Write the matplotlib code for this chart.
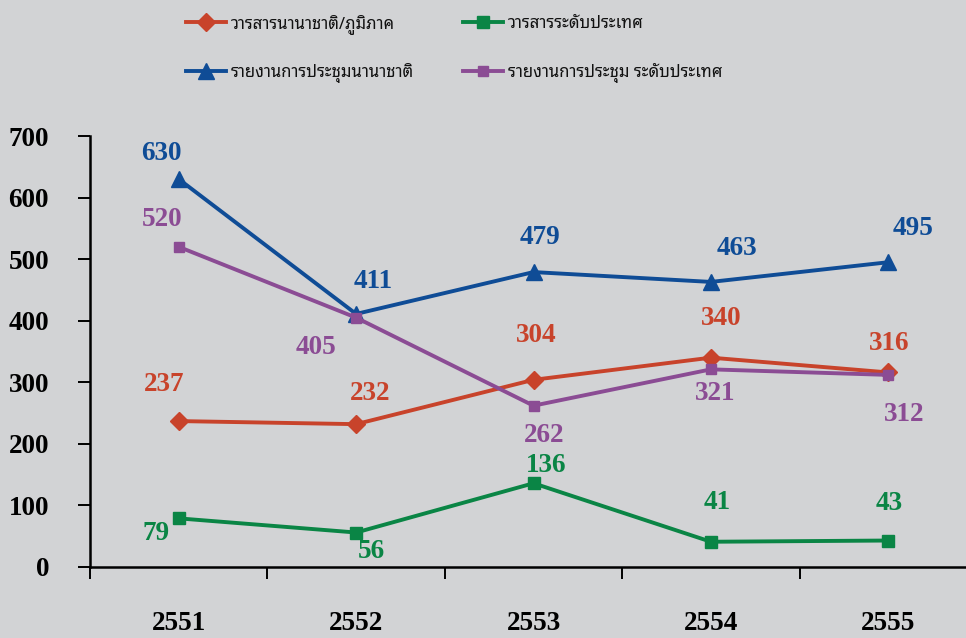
import matplotlib
matplotlib.use('Agg')
import matplotlib.pyplot as plt
from matplotlib.ticker import FixedLocator

# data
years = ['2551', '2552', '2553', '2554', '2555']
intl_journal = [237, 232, 304, 340, 316]
natl_journal = [79, 56, 136, 41, 43]
intl_conf = [630, 411, 479, 463, 495]
natl_conf = [520, 405, 262, 321, 312]
names = ['วารสารนานาชาติ/ภูมิภาค', 'วารสารระดับประเทศ',
         'รายงานการประชุมนานาชาติ', 'รายงานการประชุม ระดับประเทศ']

# label offsets in pixels (dx, dy) for each point
off_ij = [(-15, 37), (14, 31), (3, 44), (10, 39), (1, 29)]
off_nj = [(-23, -15), (15, -19), (13, 18), (6, 39), (1, 37)]
off_ic = [(-17, 26), (17, 32), (6, 35), (26, 33), (25, 34)]
off_nc = [(-17, 27), (-40, -30), (11, -30), (4, -24), (16, -40)]

bg = '#d2d3d5'
thai = ['Noto Sans Thai Looped', 'Sarabun', 'DejaVu Sans']
serif = 'Liberation Serif'

fig = plt.figure(figsize=(9.66, 6.38), dpi=100, facecolor=bg)
ax = fig.add_axes([90/966, 71/638, 887/966, 431/638], facecolor=bg)

x = list(range(1, len(years) + 1))
series = [
    (intl_journal, '#c8432b', 'D', 9, off_ij),
    (natl_journal, '#0a8545', 's', 8.5, off_nj),
    (intl_conf, '#0f4c96', '^', 11, off_ic),
    (natl_conf, '#8b4c94', 's', 7, off_nc),
]
handles = []
for (vals, col, mk, ms, offs), name in zip(series, names):
    h, = ax.plot(x, vals, color=col, lw=2.8, marker=mk, ms=ms, label=name)
    handles.append(h)
    for xi, v, (dx, dy) in zip(x, vals, offs):
        ax.annotate(str(v), (xi, v), xytext=(dx, dy), textcoords='offset pixels',
                    ha='center', va='center', color=col, fontsize=19.5,
                    fontweight='bold', family=serif)

ax.set_xlim(0.5, 5.5)
ax.set_ylim(0, 700)
ax.set_yticks(range(0, 701, 100))
ax.set_xticks(x)
ax.set_xticklabels(years)
ax.xaxis.set_minor_locator(FixedLocator([i + 0.5 for i in range(0, 6)]))
ax.tick_params(axis='x', which='major', length=0, pad=32)
ax.tick_params(axis='x', which='minor', length=8.5, width=1.4, direction='out')
ax.tick_params(axis='y', length=8.5, width=1.4, pad=21, direction='out')
for lab in ax.get_xticklabels() + ax.get_yticklabels():
    lab.set_family(serif)
    lab.set_fontweight('bold')
    lab.set_fontsize(19.5)
for s in ['top', 'right']:
    ax.spines[s].set_visible(False)
for s in ['left', 'bottom']:
    ax.spines[s].set_linewidth(1.8)
ax.spines['left'].set_bounds(0, 700)

# legend: one entry per anchor, red/blue on the left, green/purple on the right
anchors = [(186, 24), (463, 24), (186, 73), (463, 73)]
for h, name, (px, py) in zip(handles, names, anchors):
    fig.legend([h], [name], loc='center left',
               bbox_to_anchor=(px/966, 1 - py/638), frameon=False,
               prop={'family': thai, 'size': 12}, handlelength=2.4,
               handletextpad=0.3, borderpad=0, borderaxespad=0,
               labelcolor='#111111')

fig.savefig('out.png', dpi=100, facecolor=bg)
